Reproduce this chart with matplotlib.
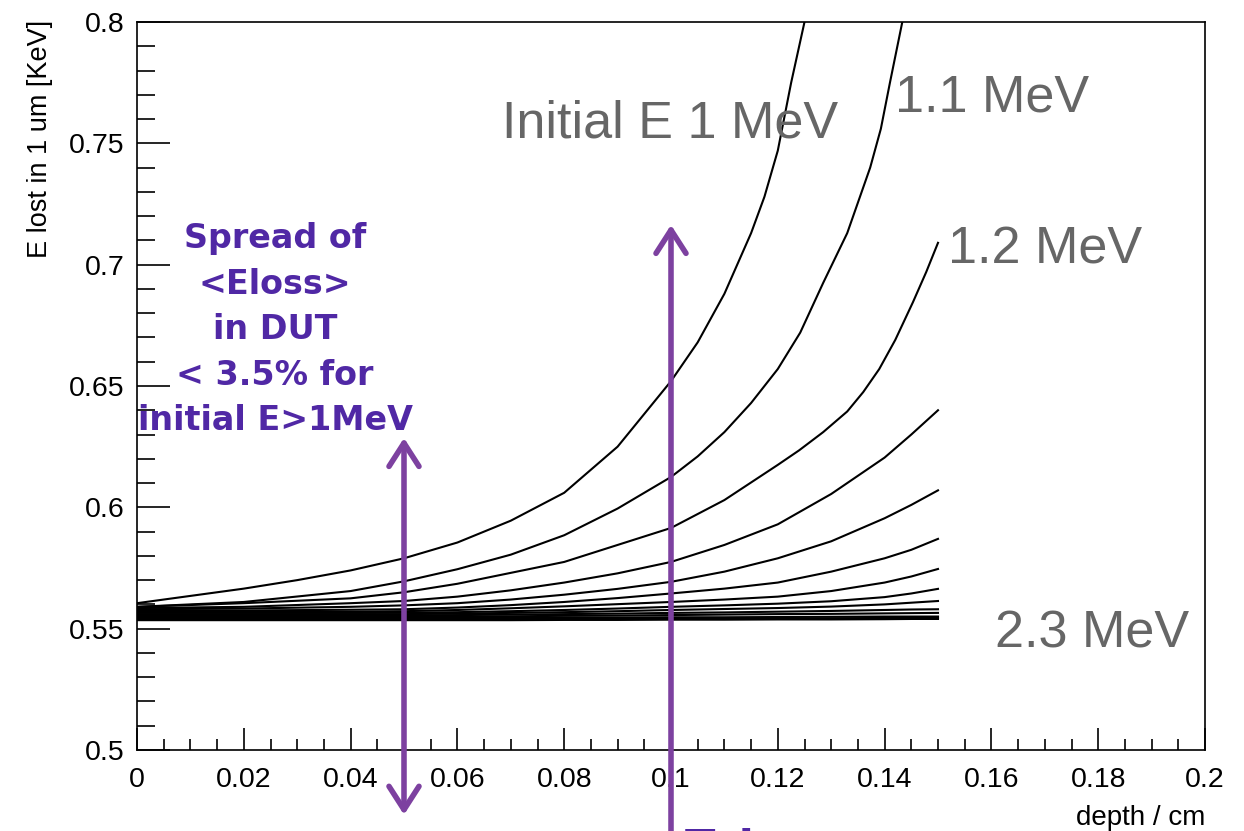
import numpy as np
import matplotlib
matplotlib.use("Agg")
import matplotlib.pyplot as plt

# depth grids (cm)
depth_1p0 = [0, 0.01, 0.02, 0.03, 0.04, 0.05, 0.06, 0.07, 0.08, 0.09, 0.10, 0.105, 0.11, 0.115,
             0.1175, 0.12, 0.1225, 0.1238, 0.1252]
depth_1p1 = [0, 0.02, 0.04, 0.05, 0.06, 0.07, 0.08, 0.09, 0.10, 0.105, 0.11, 0.115, 0.12, 0.1242,
             0.1285, 0.133, 0.1373, 0.1393, 0.141, 0.1435]
depth_1p2 = [0, 0.02, 0.04, 0.05, 0.06, 0.08, 0.10, 0.11, 0.12, 0.124, 0.1285, 0.133, 0.136, 0.139,
             0.142, 0.1453, 0.1478, 0.15]
depth = [0, 0.02, 0.04, 0.05, 0.06, 0.07, 0.08, 0.09, 0.10, 0.11, 0.12, 0.13, 0.14, 0.145, 0.15]

# energy lost in 1 um [keV], one curve per initial energy
eloss_1p0 = [0.5605, 0.5635, 0.5665, 0.570, 0.574, 0.579, 0.5855, 0.5945, 0.606, 0.625, 0.652, 0.668,
             0.688, 0.713, 0.728, 0.747, 0.775, 0.788, 0.802]
eloss_1p1 = [0.559, 0.561, 0.5655, 0.5695, 0.5745, 0.5805, 0.5885, 0.5995, 0.6125, 0.621, 0.631, 0.643,
             0.657, 0.672, 0.6925, 0.713, 0.740, 0.756, 0.775, 0.802]
eloss_1p2 = [0.559, 0.5605, 0.5625, 0.565, 0.5685, 0.5775, 0.5915, 0.603, 0.6175, 0.6235, 0.631, 0.6395,
             0.6475, 0.657, 0.669, 0.6845, 0.697, 0.709]
eloss_1p3 = [0.5585, 0.559, 0.5605, 0.5614, 0.5632, 0.5658, 0.569, 0.5728, 0.5775, 0.5845, 0.593,
             0.6055, 0.6205, 0.630, 0.640]
eloss_1p4 = [0.558, 0.5583, 0.559, 0.5596, 0.5605, 0.562, 0.564, 0.5664, 0.5693, 0.5735, 0.579,
             0.586, 0.5955, 0.601, 0.607]
eloss_1p5 = [0.5575, 0.5575, 0.5578, 0.558, 0.5587, 0.5597, 0.561, 0.5626, 0.5645, 0.5665, 0.569,
             0.5735, 0.579, 0.5825, 0.587]
eloss_1p6 = [0.557, 0.557, 0.557, 0.5572, 0.5577, 0.5584, 0.5592, 0.5601, 0.561, 0.562, 0.5632,
             0.5655, 0.569, 0.5715, 0.5746]
eloss_1p7 = [0.5565, 0.5565, 0.5565, 0.5566, 0.5568, 0.5572, 0.5577, 0.5583, 0.559, 0.5596, 0.5603,
             0.5613, 0.563, 0.5645, 0.5664]
eloss_1p8 = [0.556, 0.556, 0.556, 0.556, 0.5562, 0.5565, 0.5568, 0.5572, 0.5577, 0.5581, 0.5585,
             0.5591, 0.560, 0.5607, 0.5614]
eloss_1p9 = [0.5555, 0.5555, 0.5555, 0.5555, 0.5556, 0.5558, 0.556, 0.5562, 0.5565, 0.5567, 0.557,
             0.5573, 0.5577, 0.5579, 0.558]
eloss_2p0 = [0.555, 0.555, 0.555, 0.555, 0.555, 0.5551, 0.5553, 0.5554, 0.5556, 0.5558, 0.556,
             0.5561, 0.5563, 0.5564, 0.5565]
eloss_2p1 = [0.5545, 0.5545, 0.5545, 0.5545, 0.5545, 0.5545, 0.5546, 0.5546, 0.5547, 0.5547, 0.5548,
             0.5549, 0.555, 0.555, 0.555]
eloss_2p2 = [0.554, 0.554, 0.554, 0.554, 0.554, 0.554, 0.554, 0.5541, 0.5541, 0.5541, 0.5542,
             0.5543, 0.5544, 0.5544, 0.5545]
eloss_2p3 = [0.5535, 0.5535, 0.5535, 0.5535, 0.5535, 0.5535, 0.5536, 0.5536, 0.5537, 0.5537, 0.5538,
             0.5538, 0.5539, 0.554, 0.554]

curves = [(depth_1p0, eloss_1p0), (depth_1p1, eloss_1p1), (depth_1p2, eloss_1p2)] + \
         [(depth, e) for e in (eloss_1p3, eloss_1p4, eloss_1p5, eloss_1p6, eloss_1p7,
                               eloss_1p8, eloss_1p9, eloss_2p0, eloss_2p1, eloss_2p2, eloss_2p3)]

PURPLE_TXT = "#5028a5"
PURPLE_ARR = "#7d41a0"
GREY = "#666666"

plt.rcParams["font.family"] = ["Liberation Sans", "DejaVu Sans"]

W, H = 1244, 831
fig = plt.figure(figsize=(W / 100, H / 100), dpi=100)
ax = fig.add_axes([137 / W, 1 - 750 / H, 1068 / W, 728 / H])

for d, e in curves:
    ax.plot(d, e, color="black", lw=1.5)

ax.set_xlim(0, 0.2)
ax.set_ylim(0.5, 0.8)
ax.set_xticks(np.arange(0, 0.2001, 0.02))
ax.set_xticks(np.arange(0, 0.2001, 0.005), minor=True)
ax.set_yticks(np.arange(0.5, 0.8001, 0.05))
ax.set_yticks(np.arange(0.5, 0.8001, 0.01), minor=True)
ax.set_xticklabels(["0", "0.02", "0.04", "0.06", "0.08", "0.1", "0.12", "0.14", "0.16", "0.18", "0.2"])
ax.set_yticklabels(["0.5", "0.55", "0.6", "0.65", "0.7", "0.75", "0.8"])
ax.tick_params(axis="both", which="both", direction="in", labelsize=20.5, width=1.2)
ax.tick_params(axis="x", which="major", length=16, pad=12)
ax.tick_params(axis="x", which="minor", length=8)
ax.tick_params(axis="y", which="major", length=24, pad=9)
ax.tick_params(axis="y", which="minor", length=13)
for s in ax.spines.values():
    s.set_linewidth(1.2)

fig.text(40 / W, 1 - 20 / H, "E lost in 1 um [KeV]", rotation=90, ha="center", va="top", fontsize=19.5)
fig.text(1205 / W, (H - 825) / H, "depth / cm", ha="right", va="baseline", fontsize=20)

# energy labels
big = dict(color=GREY, fontsize=37.5, va="baseline", ha="left", transform=ax.transAxes)
ax.text((502 - 137) / 1068, (750 - 138) / 728, "Initial E 1 MeV", **big)
ax.text((895 - 137) / 1068, (750 - 112) / 728, "1.1 MeV", **big)
ax.text((948 - 137) / 1068, (750 - 264) / 728, "1.2 MeV", **big)
ax.text((995 - 137) / 1068, (750 - 648) / 728, "2.3 MeV", **big)

ax.text((275 - 137) / 1068, (750 - 430) / 728,
        "Spread of\n<Eloss>\nin DUT\n< 3.5% for\ninitial E>1MeV",
        transform=ax.transAxes, ha="center", va="baseline", multialignment="center",
        color=PURPLE_TXT, fontsize=24, fontweight="bold", family="DejaVu Sans", linespacing=1.48)

# arrows
arr = dict(color=PURPLE_ARR, lw=4, shrinkA=0, shrinkB=0, mutation_scale=40)
ax.annotate("", xy=(0.05, 0.6286), xytext=(0.05, 0.4733), annotation_clip=False,
            arrowprops=dict(arrowstyle="<->,head_length=0.42,head_width=0.27", **arr))
ax.annotate("", xy=(0.1, 0.7164), xytext=(0.1, 0.43), annotation_clip=False,
            arrowprops=dict(arrowstyle="->,head_length=0.42,head_width=0.27", **arr))

# partly cropped caption at the bottom edge, as in the source slide
fig.text(685 / W, (H - 862) / H, "Telescope", ha="left", va="baseline",
         color=PURPLE_TXT, fontsize=32, fontweight="bold", family="DejaVu Sans")

fig.savefig("out.png", dpi=100)
